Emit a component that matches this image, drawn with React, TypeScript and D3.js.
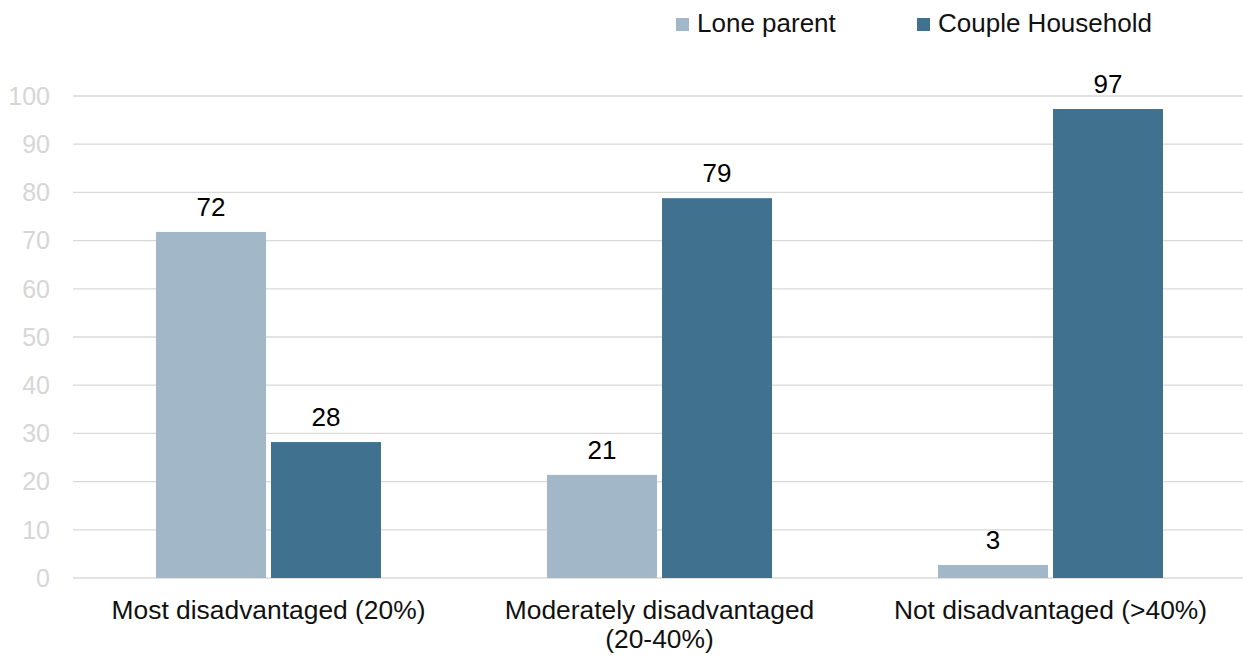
import React from "react";
import * as d3 from "d3";

const categories = ["Most disadvantaged (20%)", "Moderately disadvantaged (20-40%)", "Not disadvantaged (>40%)"];
const categoryLines = [["Most disadvantaged (20%)"], ["Moderately disadvantaged", "(20-40%)"], ["Not disadvantaged (>40%)"]];
const seriesNames = ["Lone parent", "Couple Household"];
const loneParent = [71.8, 21.4, 2.7];
const coupleHousehold = [28.2, 78.8, 97.3];
const yTicks = [0, 10, 20, 30, 40, 50, 60, 70, 80, 90, 100];
const colors = ["#a2b8c8", "#40728f"];

export default function App() {
  const W = 1243, H = 655;
  const left = 73, right = 1246, top = 96, bottom = 578;
  const x = d3.scaleBand().domain(categories).range([left, right]).paddingInner(0).paddingOuter(0);
  const y = d3.scaleLinear().domain([0, 100]).range([bottom, top]);
  const barW = 110, gap = 5;
  const series = [loneParent, coupleHousehold];
  const font = "'Liberation Sans', Arial, sans-serif";
  const fmt = d3.format(".0f");
  return (
    <svg width={W} height={H} style={{ position: "absolute", left: 0, top: 0, background: "#fff" }} fontFamily={font}>
      {yTicks.map((t) => (
        <g key={t}>
          <line x1={left} x2={W} y1={y(t)} y2={y(t)} stroke="#d9d9d9" strokeWidth={1.3} />
          <text x={50} y={y(t)} dy="0.35em" textAnchor="end" fontSize={25} fill="#d6d6d6">{t}</text>
        </g>
      ))}
      {categories.map((c, i) => {
        const cx = (x(c) as number) + x.bandwidth() / 2;
        return (
          <g key={c}>
            {series.map((s, j) => {
              const bx = cx - barW - gap / 2 + j * (barW + gap);
              return (
                <g key={j}>
                  <rect x={bx} y={y(s[i])} width={barW} height={y(0) - y(s[i])} fill={colors[j]} />
                  <text x={bx + barW / 2} y={y(s[i]) - 16} textAnchor="middle" fontSize={26} fill="#000">{fmt(s[i])}</text>
                </g>
              );
            })}
            {categoryLines[i].map((ln, k) => (
              <text key={k} x={cx} y={619 + k * 29} textAnchor="middle" fontSize={26.4} fill="#111">{ln}</text>
            ))}
          </g>
        );
      })}
      {seriesNames.map((n, j) => {
        const lx = j === 0 ? 676 : 917;
        return (
          <g key={n}>
            <rect x={lx} y={18} width={13} height={13} fill={colors[j]} />
            <text x={lx + 21} y={32} fontSize={26} fill="#111">{n}</text>
          </g>
        );
      })}
    </svg>
  );
}
